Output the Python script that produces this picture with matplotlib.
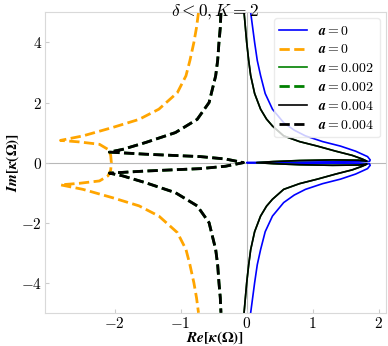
import numpy as np
import matplotlib
matplotlib.use("Agg")
import matplotlib.pyplot as plt
from matplotlib.ticker import FixedLocator, FuncFormatter

plt.rcParams["mathtext.fontset"] = "cm"

# upper halves of the branches (lower halves are mirrored)
blue_re = [0.06, 0.09, 0.12, 0.16, 0.21, 0.28, 0.39, 0.56, 0.72, 0.89, 1.15, 1.42,
           1.65, 1.83, 1.87, 1.86, 1.7, 1.2, 0.6, 0.2, 0.0]
blue_im = [5.0, 4.5, 4.0, 3.4, 2.9, 2.3, 1.78, 1.33, 1.08, 0.89, 0.7, 0.55,
           0.38, 0.2, 0.09, 0.04, 0.03, 0.025, 0.015, 0.005, 0.0]

black_re = [-0.04, -0.02, 0.0, 0.03, 0.06, 0.12, 0.21, 0.3, 0.39, 0.56, 0.8, 1.07,
            1.35, 1.6, 1.75, 1.82, 1.7, 1.3, 0.8, 0.4, 0.15]
black_im = [5.0, 4.5, 4.0, 3.4, 2.9, 2.3, 1.78, 1.45, 1.22, 0.89, 0.7, 0.55,
            0.38, 0.24, 0.12, 0.05, 0.08, 0.09, 0.07, 0.035, 0.0]

orange_re = [-0.73, -0.76, -0.8, -0.86, -0.92, -1.05, -1.33, -1.63, -2.03, -2.48,
             -2.82, -2.54, -2.23, -2.1, -2.06, -2.05]
orange_im = [5.0, 4.5, 4.0, 3.4, 2.89, 2.33, 1.78, 1.44, 1.17, 0.89,
             0.74, 0.69, 0.61, 0.44, 0.25, 0.0]

blackd_re = [-0.39, -0.40, -0.42, -0.44, -0.47, -0.57, -0.75, -1.08, -1.53, -1.88,
             -2.08, -1.53, -0.7, -0.32, -0.05]
blackd_im = [5.0, 4.5, 4.0, 3.4, 2.89, 2.0, 1.44, 1.0, 0.67, 0.44,
             0.35, 0.28, 0.2, 0.12, 0.0]

a_vals = ["0", "0", "0.002", "0.002", "0.004", "0.004"]


def both(re, im):
    # upper half from the top down to the axis, then the mirrored lower half
    re = np.array(re)
    im = np.array(im)
    return np.concatenate([re, re[::-1]]), np.concatenate([im, -im[::-1]])


fig = plt.figure(figsize=(3.88, 3.46), dpi=100)
ax = fig.add_axes([0.116, 0.096, 0.878, 0.868])

ax.axhline(0, color="0.72", lw=0.8, zorder=0)
ax.axvline(0, color="0.72", lw=0.8, zorder=0)

curves = [
    (blue_re, blue_im, "blue", "-", 1.2),
    (orange_re, orange_im, "orange", "--", 2.0),
    (black_re, black_im, "green", "-", 1.2),
    (blackd_re, blackd_im, "green", "--", 2.0),
    (black_re, black_im, "black", "-", 1.2),
    (blackd_re, blackd_im, "black", "--", 2.0),
]
for (re, im, c, ls, lw), a in zip(curves, a_vals):
    x, y = both(re, im)
    ax.plot(x, y, color=c, ls=ls, lw=lw, label=r"$\boldsymbol{a = %s}$" % a)

ax.set_ylim(-5, 5)
ax.margins(x=0.05)
ax.xaxis.set_major_locator(FixedLocator([-2, -1, 0, 1, 2]))
ax.yaxis.set_major_locator(FixedLocator([-4, -2, 0, 2, 4]))
fmt = FuncFormatter(lambda v, p: r"$\mathbf{%d}$" % v)
ax.xaxis.set_major_formatter(fmt)
ax.yaxis.set_major_formatter(fmt)
ax.tick_params(direction="in", length=3, color="0.8", labelsize=11, pad=2)
for s in ax.spines.values():
    s.set_color("0.85")

ax.set_xlabel(r"$\boldsymbol{Re[\kappa(\Omega)]}$", fontsize=11, labelpad=-1,
              math_fontfamily="stix")
ax.set_ylabel(r"$\boldsymbol{Im[\kappa(\Omega)]}$", fontsize=11, labelpad=0,
              math_fontfamily="stix")
ax.set_title(r"$\delta < 0, K = 2$", fontsize=12.5, y=1.0, pad=-3)

leg = ax.legend(loc="upper right", fontsize=10, frameon=True, fancybox=True,
                borderaxespad=0.4, handlelength=2.0, labelspacing=0.35)
leg.get_frame().set_edgecolor("0.9")

fig.savefig("out.png", dpi=100)
